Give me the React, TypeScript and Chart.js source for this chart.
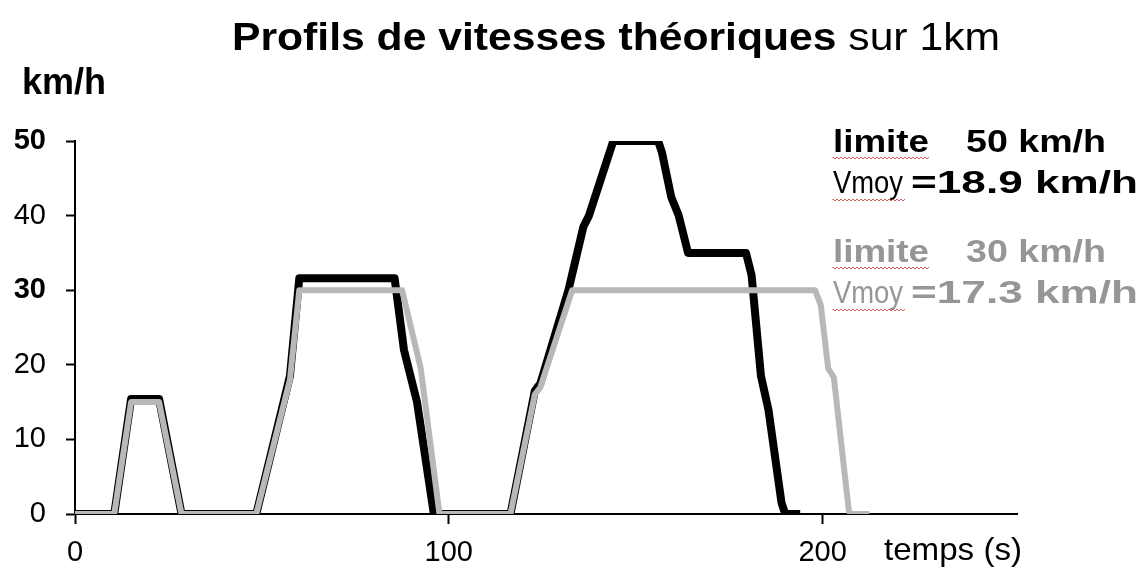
import React, { useEffect, useRef } from "react";
import { Chart, registerables } from "chart.js";

Chart.register(...registerables);

const FONT = '"Liberation Sans", Arial, Helvetica, sans-serif';

// Speed profile, limit 50 km/h (black)
const limit50Times = [0, 10.5, 15, 22.5, 28.5, 48.5, 57.5, 60, 85.5, 88, 91.5, 96, 116.5, 123, 124.5, 132, 136, 137.5, 144, 156, 157, 159.5, 161.5, 164, 179.5, 181, 183.5, 185.5, 189, 190, 194];
const limit50Speeds = [0, 0, 15.4, 15.4, 0, 0, 18.5, 31.6, 31.6, 22, 15, 0, 0, 16.5, 17.5, 30, 38.5, 40, 50, 50, 48.5, 42.5, 40, 35, 35, 32, 18.5, 14, 1.5, 0, 0];

// Speed profile, limit 30 km/h (gray)
const limit30Times = [0, 10.5, 15, 22.5, 28.5, 48.5, 57.5, 60, 87.5, 92.5, 97.5, 116.5, 123, 124.5, 133, 198, 199.5, 201.5, 203, 207, 207.5, 212.5];
const limit30Speeds = [0, 0, 15, 15, 0, 0, 18, 30, 30, 19.5, 0, 0, 16, 17, 30, 30, 28, 19.5, 18.3, 0.5, 0, 0];

const yTickBold = [30, 50];
const xMin = 0;
const xMax = 252;
const xStep = 100;
const yMin = 0;
const yMax = 50;
const yStep = 10;

const titleBold = "Profils de vitesses théoriques";
const titleNormal = " sur 1km";
const yAxisTitle = "km/h";
const xAxisTitle = "temps (s)";
const legend50 = ["limite", "50 km/h", "Vmoy", "=18.9 km/h"];
const legend30 = ["limite", "30 km/h", "Vmoy", "=17.3 km/h"];

type Run = { text: string; weight: string };

function drawRuns(
  ctx: CanvasRenderingContext2D,
  runs: Run[],
  left: number,
  right: number,
  baseline: number,
  size: number,
  color: string
) {
  ctx.save();
  const widths = runs.map((r) => {
    ctx.font = `${r.weight} ${size}px ${FONT}`;
    return ctx.measureText(r.text).width;
  });
  const total = widths.reduce((a, b) => a + b, 0);
  const sx = (right - left) / total;
  ctx.translate(left, baseline);
  ctx.scale(sx, 1);
  ctx.fillStyle = color;
  ctx.textAlign = "left";
  ctx.textBaseline = "alphabetic";
  let x = 0;
  runs.forEach((r, i) => {
    ctx.font = `${r.weight} ${size}px ${FONT}`;
    ctx.fillText(r.text, x, 0);
    x += widths[i];
  });
  ctx.restore();
}

function wavy(ctx: CanvasRenderingContext2D, x0: number, x1: number, y: number) {
  ctx.save();
  ctx.beginPath();
  let up = true;
  ctx.moveTo(x0, y);
  for (let x = x0; x <= x1; x += 2) {
    ctx.lineTo(x, y + (up ? -1 : 1));
    up = !up;
  }
  ctx.strokeStyle = "rgba(200,40,40,0.75)";
  ctx.lineWidth = 1;
  ctx.stroke();
  ctx.restore();
}

const textPlugin = {
  id: "textPlugin",
  afterDraw(chart: any) {
    const ctx = chart.ctx as CanvasRenderingContext2D;
    drawRuns(ctx, [{ text: titleBold, weight: "bold" }, { text: titleNormal, weight: "normal" }], 232, 1000, 50, 39, "#000");
    drawRuns(ctx, [{ text: yAxisTitle, weight: "bold" }], 22, 106, 94, 36, "#000");
    drawRuns(ctx, [{ text: xAxisTitle, weight: "normal" }], 884, 1022, 560, 32, "#000");

    const rows: [string[], string, number][] = [
      [legend50, "#000", 152],
      [legend30, "#969696", 262],
    ];
    rows.forEach(([txt, color, base]) => {
      drawRuns(ctx, [{ text: txt[0], weight: "bold" }], 833, 929, base, 31, color);
      drawRuns(ctx, [{ text: txt[1], weight: "bold" }], 966, 1106, base, 31, color);
      wavy(ctx, 833, 929, base + 6);
      drawRuns(ctx, [{ text: txt[2], weight: "normal" }], 833, 903, base + 41, 31, color);
      drawRuns(ctx, [{ text: txt[3], weight: "bold" }], 911, 1138, base + 41, 31, color);
      wavy(ctx, 833, 905, base + 48);
    });
  },
};

export default function App() {
  const canvasRef = useRef<HTMLCanvasElement | null>(null);

  useEffect(() => {
    const canvas = canvasRef.current;
    if (!canvas) return;
    const black = limit50Times.map((t, i) => ({ x: t, y: limit50Speeds[i] }));
    const gray = limit30Times.map((t, i) => ({ x: t, y: limit30Speeds[i] }));
    const chart = new Chart(canvas, {
      type: "line",
      data: {
        datasets: [
          {
            label: "limite 30 km/h",
            data: gray,
            borderColor: "#b8b8b8",
            borderWidth: 6,
            pointRadius: 0,
            tension: 0,
            borderJoinStyle: "round",
            order: 0,
          },
          {
            label: "limite 50 km/h",
            data: black,
            borderColor: "#000000",
            borderWidth: 8,
            pointRadius: 0,
            tension: 0,
            borderJoinStyle: "round",
            order: 1,
          },
        ],
      },
      options: {
        responsive: false,
        animation: false,
        layout: { padding: { left: 8, top: 141, right: 126, bottom: 0 } },
        plugins: {
          legend: { display: false },
          tooltip: { enabled: false },
          title: { display: false },
        },
        scales: {
          x: {
            type: "linear",
            min: xMin,
            max: xMax,
            afterFit: (axis: any) => {
              axis.height = 64;
            },
            ticks: {
              stepSize: xStep,
              includeBounds: false,
              color: "#000",
              padding: 12,
              maxRotation: 0,
              font: { family: FONT, size: 29 },
            },
            grid: {
              drawOnChartArea: false,
              drawTicks: true,
              tickLength: 10,
              tickColor: "#000",
              tickWidth: 2,
            },
            border: { display: true, color: "#000", width: 2 },
          },
          y: {
            type: "linear",
            min: yMin,
            max: yMax,
            afterFit: (axis: any) => {
              axis.width = 67;
            },
            ticks: {
              stepSize: yStep,
              color: "#000",
              padding: 20,
              font: (c: any) => ({
                family: FONT,
                size: 29,
                weight: c.tick && yTickBold.includes(c.tick.value) ? "bold" : "normal",
              }),
            },
            grid: {
              drawOnChartArea: false,
              drawTicks: true,
              tickLength: 9,
              tickColor: "#000",
              tickWidth: 2,
            },
            border: { display: true, color: "#000", width: 2 },
          },
        },
      },
      plugins: [textPlugin],
    });
    return () => chart.destroy();
  }, []);

  return (
    <canvas
      ref={canvasRef}
      width={1143}
      height={578}
      style={{ position: "fixed", left: 0, top: 0, display: "block", background: "#fff" }}
    />
  );
}
